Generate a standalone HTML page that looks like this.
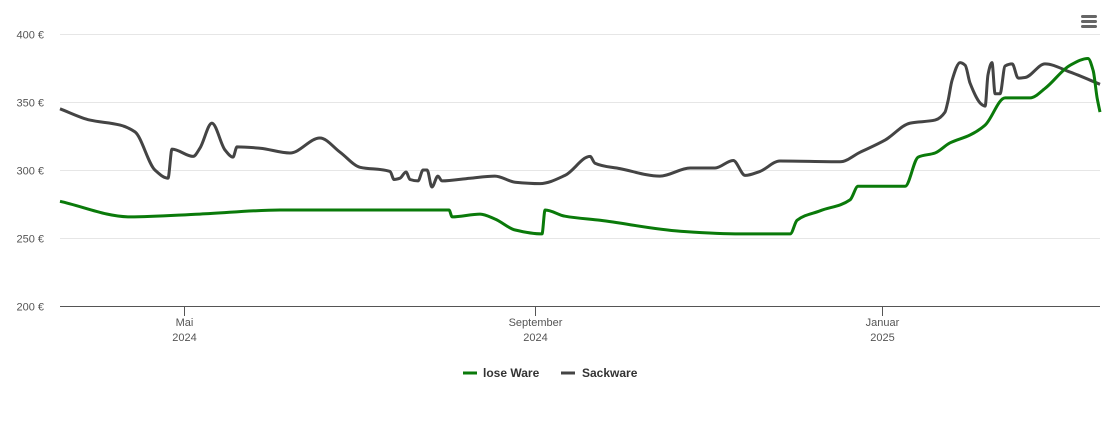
<!DOCTYPE html>
<html><head><meta charset="utf-8">
<style>
body{margin:0;background:#fff;font-family:"Liberation Sans",sans-serif;}
svg text{font-family:"Liberation Sans",sans-serif;}
</style></head>
<body>
<svg id="chart" width="1110" height="423" viewBox="0 0 1110 423" xmlns="http://www.w3.org/2000/svg">
<rect width="1110" height="423" fill="#fff"/>
<g id="grid"></g>
<g id="yLabels"></g>
<g id="xAxis"></g>
<g id="series"></g>
<g>
  <g>
    <line x1="463" y1="373" x2="477" y2="373" stroke="#0a7a0a" stroke-width="3"/>
    <text x="483" y="377" font-size="12" font-weight="bold" fill="#333">lose Ware</text>
  </g>
  <g>
    <line x1="561" y1="373" x2="575" y2="373" stroke="#444" stroke-width="3"/>
    <text x="582" y="377" font-size="12" font-weight="bold" fill="#333">Sackware</text>
  </g>
</g>
<g>
  <rect x="1081" y="15" width="16" height="3" rx="1.5" fill="#666"/>
  <rect x="1081" y="20" width="16" height="3" rx="1.5" fill="#666"/>
  <rect x="1081" y="25" width="16" height="3" rx="1.5" fill="#666"/>
</g>
</svg>
<script>
// days since 2024-03-18
const greenDays=[0,24.6,49.1,77.2,136.5,137.6,147.4,152.6,159.7,169.1,170.2,177.2,189.5,217.6,238.6,256.2,258.6,266.7,277.2,280,296.5,301.1,307,312.3,319.3,324.6,331.6,340.4,345.6,354.4,360.7,362.5,363.9,364.9];
const greenValues=[277,265.5,267.6,270.6,270.6,265.5,267.6,264,255.9,253,270.6,266,263,255,253,253,263,270,278,288,288,309.5,312.5,320,325.7,333,353,353,360,377,382,373,353,342.6];
const grayDays=[0,10.5,21.1,26.3,33.3,37.9,39.3,46.7,49.1,53.3,57.9,60.7,62.1,70.2,80.7,91.2,98.3,105.3,115.8,117.2,119.3,121.4,122.8,125.6,127.4,128.8,130.5,132.6,134,143.9,152.6,159.7,168.4,177.2,186,187.7,196.5,210.5,221.1,229.8,236.2,240.4,245.6,252.6,273.7,280.7,289.5,298.3,307,310.5,311.6,313,315.8,317.6,319.3,323.5,324.6,325.6,327,328.1,329.8,331.6,334.1,336.2,338.6,345.6,354.4,364.9];
const grayValues=[345,336.7,333,328,300,294,315.4,310,316,334.5,314.7,309.5,317,316,312.5,323.5,313,302,299,293,294,298.5,293,292,300,300,287.5,295.5,292,294,295.5,291,290,296,310,305,301,295.5,301.5,301.5,307,296,299,306.6,306,313,322,334.5,336.7,342.6,351,366,379,377,364,348,347,370,379,356,356,376.5,378,367.6,368,378,372,363];
const yTicks=[200,250,300,350,400];
const xTickDays=[43.5,166.5,288.5];
const xTickLabels=[["Mai","2024"],["September","2024"],["Januar","2025"]];

const NS="http://www.w3.org/2000/svg";
const X0=60,X1=1100,D1=364.9,Y0=306,Y1=34;
const xs=d=>X0+(X1-X0)*d/D1;
const ys=v=>Y0-(Y0-Y1)*(v-200)/200;
function mk(tag,attrs,parent){const e=document.createElementNS(NS,tag);for(const k in attrs)e.setAttribute(k,attrs[k]);parent.appendChild(e);return e;}

const grid=document.getElementById('grid'),yl=document.getElementById('yLabels'),xa=document.getElementById('xAxis'),sg=document.getElementById('series');
yTicks.forEach(v=>{
  const y=Math.round(ys(v))+0.5;
  if(v>200){const l=mk('line',{x1:X0,x2:X1,y1:y,y2:y,stroke:'#e6e6e6','stroke-width':1},grid);
  
  }
  const t=mk('text',{x:44,y:y+4,'text-anchor':'end','font-size':11,fill:'#555'},yl);
  t.textContent=v+' €';
  
  
});
const ax=mk('line',{x1:X0,x2:X1,y1:306.5,y2:306.5,stroke:'#555','stroke-width':1},xa);


xTickDays.forEach((d,i)=>{
  const x=Math.round(xs(d))+0.5;
  const tk=mk('line',{x1:x,x2:x,y1:306,y2:316,stroke:'#555','stroke-width':1},xa);
  
  
  const t=mk('text',{x:x,y:326,'text-anchor':'middle','font-size':11,fill:'#555'},xa);
  
  
  const a=mk('tspan',{x:x,dy:0},t);a.textContent=xTickLabels[i][0];
  const b=mk('tspan',{x:x,dy:15},t);b.textContent=xTickLabels[i][1];
});
function monotone(px,py){
  const n=px.length,dx=[],m=[],t=[];
  for(let i=0;i<n-1;i++){dx.push(px[i+1]-px[i]);m.push((py[i+1]-py[i])/dx[i]);}
  t[0]=m[0];t[n-1]=m[n-2];
  for(let i=1;i<n-1;i++){t[i]=(m[i-1]*m[i]<=0)?0:3*(dx[i-1]+dx[i])/((2*dx[i]+dx[i-1])/m[i-1]+(dx[i]+2*dx[i-1])/m[i]);}
  let p='M'+px[0].toFixed(1)+','+py[0].toFixed(1);
  for(let i=0;i<n-1;i++){const h=dx[i]/3;
    p+=' C'+(px[i]+h).toFixed(1)+','+(py[i]+t[i]*h).toFixed(1)+' '+(px[i+1]-h).toFixed(1)+','+(py[i+1]-t[i+1]*h).toFixed(1)+' '+px[i+1].toFixed(1)+','+py[i+1].toFixed(1);}
  return p;
}
const gp=mk('path',{d:monotone(grayDays.map(xs),grayValues.map(ys)),fill:'none',stroke:'#444','stroke-width':3,'stroke-linejoin':'round'},sg);


const grp=mk('path',{d:monotone(greenDays.map(xs),greenValues.map(ys)),fill:'none',stroke:'#0a7a0a','stroke-width':3,'stroke-linejoin':'round'},sg);


</script>
</body></html>
